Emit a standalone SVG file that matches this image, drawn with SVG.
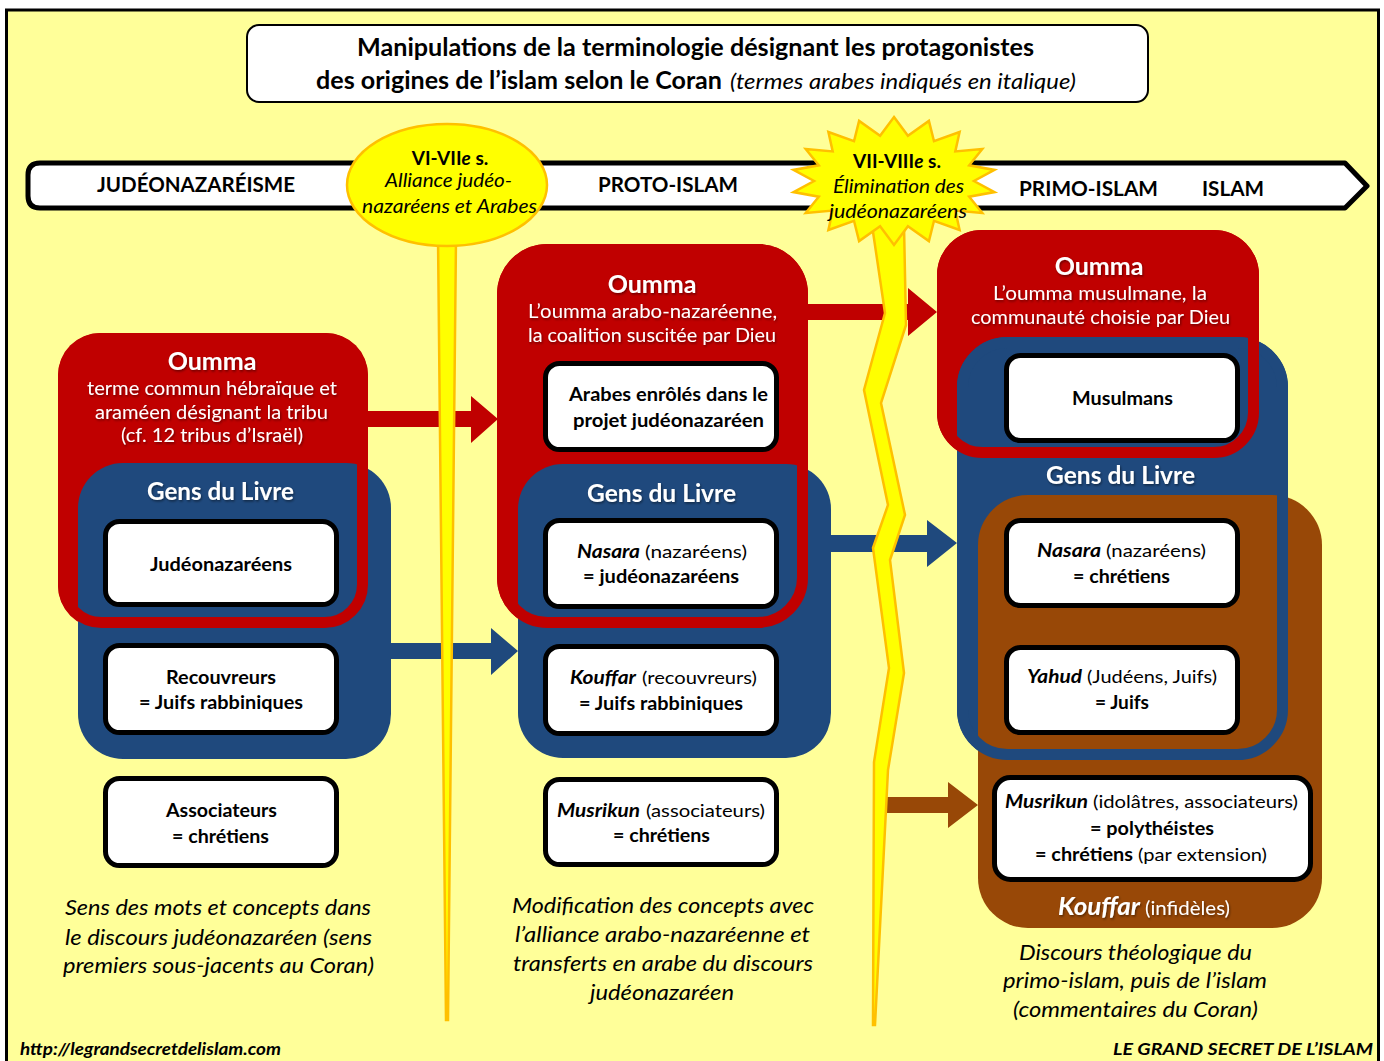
<svg xmlns="http://www.w3.org/2000/svg" width="1384" height="1061" viewBox="0 0 1384 1061">
<defs>
<filter id="sh" x="-5%" y="-20%" width="110%" height="150%"><feDropShadow dx="1" dy="1.5" stdDeviation="1" flood-color="#000" flood-opacity="0.45"/></filter>
<style>
text{font-family:Lato,"Liberation Sans",sans-serif;fill:#000}
.b{font-weight:700}
.i{font-style:italic}
.w{fill:#fff}
.s18{font-size:18px}
.s19{font-size:19.5px}
.s21{font-size:21px}
.s24{font-size:24px}
.s25{font-size:25px}
.red{fill:#C00000}
.blue{fill:#1F497D}
.brown{fill:#984807}
.redo{fill:none;stroke:#C00000;stroke-width:11}
.blueo{fill:none;stroke:#1F497D;stroke-width:11}
.wb{fill:#fff;stroke:#000;stroke-width:5}
.yl{fill:#FFFF00;stroke:#FFC000;stroke-width:2.5}
</style>
</defs>
<rect x="0" y="0" width="1384" height="1061" fill="#fff"/>
<rect x="6.5" y="10" width="1372" height="1080" fill="#FFFF99" stroke="#000" stroke-width="3"/>

<g id="title">
<rect x="247" y="25" width="901" height="77" rx="12" fill="#fff" stroke="#000" stroke-width="2"/>
<text class="b s24" x="357" y="56" textLength="677" lengthAdjust="spacingAndGlyphs">Manipulations de la terminologie désignant les protagonistes</text>
<text class="b s24" x="316" y="89" textLength="406" lengthAdjust="spacingAndGlyphs">des origines de l’islam selon le Coran</text>
<text class="i" font-size="22" x="730" y="89" textLength="346" lengthAdjust="spacingAndGlyphs">(termes arabes indiqués en italique)</text>
</g>

<g id="timeline">
<path d="M40,163 H1345 L1367,186 L1345,208 H40 Q28,208 28,196 V175 Q28,163 40,163 Z" fill="#fff" stroke="#000" stroke-width="5" stroke-linejoin="round"/>
<text class="b s21" x="97" y="192" textLength="198" lengthAdjust="spacingAndGlyphs">JUDÉONAZARÉISME</text>
<text class="b s21" x="598" y="192" textLength="140" lengthAdjust="spacingAndGlyphs">PROTO-ISLAM</text>
<text class="b s21" x="1019" y="196" textLength="139" lengthAdjust="spacingAndGlyphs">PRIMO-ISLAM</text>
<text class="b s21" x="1202" y="196" textLength="62" lengthAdjust="spacingAndGlyphs">ISLAM</text>
</g>

<g id="col-left">
<rect class="red" x="58" y="333" width="310" height="295" rx="42"/>
<rect class="blue" x="78" y="463" width="313" height="296" rx="45"/>
<rect class="redo" x="63.5" y="338.5" width="299" height="284" rx="38"/>
<g filter="url(#sh)">
<text class="b w s25" x="212" y="370" text-anchor="middle">Oumma</text>
<text class="w s19" x="87" y="395" textLength="250" lengthAdjust="spacingAndGlyphs">terme commun hébraïque et</text>
<text class="w s19" x="95" y="419" textLength="233" lengthAdjust="spacingAndGlyphs">araméen désignant la tribu</text>
<text class="w s19" x="121" y="442" textLength="182" lengthAdjust="spacingAndGlyphs">(cf. 12 tribus d’Israël)</text>
<text class="b w s24" x="147" y="500" textLength="147" lengthAdjust="spacingAndGlyphs">Gens du Livre</text>
</g>
</g>

<g id="node-judeonazareens">
<rect class="wb" x="105.5" y="521.5" width="231" height="83" rx="14"/>
<text class="b s18" x="150" y="571" textLength="142" lengthAdjust="spacingAndGlyphs">Judéonazaréens</text>
</g>
<g id="node-recouvreurs">
<rect class="wb" x="105.5" y="645.5" width="231" height="87" rx="14"/>
<text class="b s18" x="166" y="684" textLength="110" lengthAdjust="spacingAndGlyphs">Recouvreurs</text>
<text class="b s18" x="139" y="709" textLength="164" lengthAdjust="spacingAndGlyphs">= Juifs rabbiniques</text>
</g>
<g id="node-associateurs">
<rect class="wb" x="105.5" y="778.5" width="231" height="87" rx="14"/>
<text class="b s18" x="166" y="817" textLength="111" lengthAdjust="spacingAndGlyphs">Associateurs</text>
<text class="b s18" x="172" y="843" textLength="97" lengthAdjust="spacingAndGlyphs">= chrétiens</text>
</g>
<g id="caption-left">
<text class="i s21" x="65" y="915" textLength="306" lengthAdjust="spacingAndGlyphs">Sens des mots et concepts dans</text>
<text class="i s21" x="65" y="945" textLength="307" lengthAdjust="spacingAndGlyphs">le discours judéonazaréen (sens</text>
<text class="i s21" x="63" y="973" textLength="311" lengthAdjust="spacingAndGlyphs">premiers sous-jacents au Coran)</text>
</g>

<g id="col-middle">
<rect class="red" x="497" y="244" width="311" height="384" rx="50"/>
<rect class="blue" x="518" y="464" width="313" height="294" rx="45"/>
<rect class="redo" x="502.5" y="249.5" width="300" height="373" rx="45"/>
<g filter="url(#sh)">
<text class="b w s25" x="652" y="293" text-anchor="middle">Oumma</text>
<text class="w s19" x="528" y="318" textLength="249" lengthAdjust="spacingAndGlyphs">L’oumma arabo-nazaréenne,</text>
<text class="w s19" x="528" y="342" textLength="248" lengthAdjust="spacingAndGlyphs">la coalition suscitée par Dieu</text>
<text class="b w s24" x="587" y="502" textLength="149" lengthAdjust="spacingAndGlyphs">Gens du Livre</text>
</g>
</g>

<g id="node-arabes">
<rect class="wb" x="545.5" y="363.5" width="231" height="86" rx="14"/>
<text class="b s18" x="569" y="401" textLength="199" lengthAdjust="spacingAndGlyphs">Arabes enrôlés dans le</text>
<text class="b s18" x="573" y="427" textLength="191" lengthAdjust="spacingAndGlyphs">projet judéonazaréen</text>
</g>
<g id="node-nasara-1">
<rect class="wb" x="545.5" y="520.5" width="231" height="86" rx="14"/>
<text class="b i s18" x="577" y="558" textLength="63" lengthAdjust="spacingAndGlyphs">Nasara</text>
<text class="s18" x="645" y="558" textLength="102" lengthAdjust="spacingAndGlyphs">(nazaréens)</text>
<text class="b s18" x="583" y="583" textLength="156" lengthAdjust="spacingAndGlyphs">= judéonazaréens</text>
</g>
<g id="node-kouffar-1">
<rect class="wb" x="545.5" y="646.5" width="231" height="87" rx="14"/>
<text class="b i s18" x="570" y="684" textLength="66" lengthAdjust="spacingAndGlyphs">Kouffar</text>
<text class="s18" x="642" y="684" textLength="115" lengthAdjust="spacingAndGlyphs">(recouvreurs)</text>
<text class="b s18" x="579" y="710" textLength="164" lengthAdjust="spacingAndGlyphs">= Juifs rabbiniques</text>
</g>
<g id="node-musrikun-1">
<rect class="wb" x="545.5" y="779.5" width="231" height="85" rx="14"/>
<text class="b i s18" x="557" y="817" textLength="83" lengthAdjust="spacingAndGlyphs">Musrikun</text>
<text class="s18" x="646" y="817" textLength="119" lengthAdjust="spacingAndGlyphs">(associateurs)</text>
<text class="b s18" x="613" y="842" textLength="97" lengthAdjust="spacingAndGlyphs">= chrétiens</text>
</g>
<g id="caption-middle">
<text class="i s21" x="512" y="913" textLength="302" lengthAdjust="spacingAndGlyphs">Modification des concepts avec</text>
<text class="i s21" x="515" y="942" textLength="295" lengthAdjust="spacingAndGlyphs">l’alliance arabo-nazaréenne et</text>
<text class="i s21" x="513" y="971" textLength="300" lengthAdjust="spacingAndGlyphs">transferts en arabe du discours</text>
<text class="i s21" x="590" y="1000" textLength="144" lengthAdjust="spacingAndGlyphs">judéonazaréen</text>
</g>

<g id="col-right">
<rect class="red" x="937" y="230" width="322" height="228" rx="45"/>
<rect class="blue" x="957" y="337" width="331" height="423" rx="50"/>
<rect class="brown" x="978" y="495" width="344" height="433" rx="50"/>
<rect class="blueo" x="962.5" y="342.5" width="320" height="412" rx="45"/>
<rect class="redo" x="942.5" y="235.5" width="311" height="217" rx="40"/>
<g filter="url(#sh)">
<text class="b w s25" x="1099" y="275" text-anchor="middle">Oumma</text>
<text class="w s19" x="993" y="300" textLength="214" lengthAdjust="spacingAndGlyphs">L’oumma musulmane, la</text>
<text class="w s19" x="971" y="324" textLength="259" lengthAdjust="spacingAndGlyphs">communauté choisie par Dieu</text>
<text class="b w s24" x="1046" y="484" textLength="149" lengthAdjust="spacingAndGlyphs">Gens du Livre</text>
<text class="b i w s25" x="1058" y="915" textLength="82" lengthAdjust="spacingAndGlyphs">Kouffar</text>
<text class="w s19" x="1145" y="915" textLength="85" lengthAdjust="spacingAndGlyphs">(infidèles)</text>
</g>
</g>

<g id="node-musulmans">
<rect class="wb" x="1006.5" y="355.5" width="231" height="85" rx="14"/>
<text class="b s18" x="1072" y="405" textLength="101" lengthAdjust="spacingAndGlyphs">Musulmans</text>
</g>
<g id="node-nasara-2">
<rect class="wb" x="1006.5" y="520.5" width="231" height="85" rx="14"/>
<text class="b i s18" x="1037" y="557" textLength="64" lengthAdjust="spacingAndGlyphs">Nasara</text>
<text class="s18" x="1106" y="557" textLength="100" lengthAdjust="spacingAndGlyphs">(nazaréens)</text>
<text class="b s18" x="1073" y="583" textLength="97" lengthAdjust="spacingAndGlyphs">= chrétiens</text>
</g>
<g id="node-yahud">
<rect class="wb" x="1006.5" y="647.5" width="231" height="85" rx="14"/>
<text class="b i s18" x="1027" y="683" textLength="55" lengthAdjust="spacingAndGlyphs">Yahud</text>
<text class="s18" x="1087" y="683" textLength="130" lengthAdjust="spacingAndGlyphs">(Judéens, Juifs)</text>
<text class="b s18" x="1095" y="709" textLength="54" lengthAdjust="spacingAndGlyphs">= Juifs</text>
</g>
<g id="node-musrikun-2">
<rect class="wb" x="994.5" y="777.5" width="316" height="102" rx="16"/>
<text class="b i s18" x="1005" y="808" textLength="83" lengthAdjust="spacingAndGlyphs">Musrikun</text>
<text class="s18" x="1093" y="808" textLength="205" lengthAdjust="spacingAndGlyphs">(idolâtres, associateurs)</text>
<text class="b s18" x="1090" y="835" textLength="124" lengthAdjust="spacingAndGlyphs">= polythéistes</text>
<text class="b s18" x="1035" y="861" textLength="98" lengthAdjust="spacingAndGlyphs">= chrétiens</text>
<text class="s18" x="1138" y="861" textLength="129" lengthAdjust="spacingAndGlyphs">(par extension)</text>
</g>
<g id="caption-right">
<text class="i s21" x="1019" y="960" textLength="233" lengthAdjust="spacingAndGlyphs">Discours théologique du</text>
<text class="i s21" x="1003" y="988" textLength="264" lengthAdjust="spacingAndGlyphs">primo-islam, puis de l’islam</text>
<text class="i s21" x="1013" y="1017" textLength="245" lengthAdjust="spacingAndGlyphs">(commentaires du Coran)</text>
</g>

<g id="connectors">
<polygon class="red" points="368,411 471,411 471,396 498,419 471,443 471,427 368,427"/>
<polygon class="red" points="808,304 908,304 908,288 937,312 908,336 908,320 808,320"/>
<polygon class="blue" points="391,643 491,643 491,628 518,651 491,675 491,659 391,659"/>
<polygon class="blue" points="831,535 927,535 927,520 957,543 927,567 927,552 831,552"/>
<polygon class="brown" points="887,797 948,797 948,782 978,805 948,828 948,813 887,813"/>
</g>

<g id="marker-alliance">
<polygon class="yl" points="438,238 456,238 448,1020 446,1020"/>
<ellipse class="yl" cx="447" cy="185" rx="100" ry="61" stroke-width="3"/>
<text class="b" font-size="19" x="450" y="165" text-anchor="middle">VI-VII<tspan class="i">e</tspan> s.</text>
<text class="i" font-size="19" x="385" y="187" textLength="127" lengthAdjust="spacingAndGlyphs">Alliance judéo-</text>
<text class="i" font-size="19" x="362" y="213" textLength="175" lengthAdjust="spacingAndGlyphs">nazaréens et Arabes</text>
</g>

<g id="marker-elimination">
<polygon class="yl" points="872,225 885,313 864,390 888,505 873,548 889,668 874,762 873,1025 875,1025 888,770 904,673 890,560 905,515 881,403 906,325 904,225"/>
<polygon class="yl" stroke-width="3" points="894,117 907.9,135.7 928.9,120.9 934,141.2 959.6,132 955.3,151.4 982.3,149 969.2,165.3 994.5,169.9 974,181 994.5,192.1 969.2,196.7 982.3,213 955.3,210.6 959.6,230 934,220.8 928.9,241.1 907.9,226.3 894,245 880.1,226.3 859.1,241.1 854,220.8 828.4,230 832.7,210.6 805.7,213 818.8,196.7 793.5,192.1 814,181 793.5,169.9 818.8,165.3 805.7,149 832.7,151.4 828.4,132 854,141.2 859.1,120.9 880.1,135.7"/>
<text class="b" font-size="19" x="897" y="168" text-anchor="middle">VII-VIII<tspan class="i">e</tspan> s.</text>
<text class="i" font-size="19" x="833" y="193" textLength="131" lengthAdjust="spacingAndGlyphs">Élimination des</text>
<text class="i" font-size="19" x="829" y="218" textLength="138" lengthAdjust="spacingAndGlyphs">judéonazaréens</text>
</g>

<g id="footer">
<text class="b i" font-size="17" x="20" y="1055" textLength="261" lengthAdjust="spacingAndGlyphs">http://legrandsecretdelislam.com</text>
<text class="b i" font-size="17" x="1113" y="1055" textLength="260" lengthAdjust="spacingAndGlyphs">LE GRAND SECRET DE L’ISLAM</text>
</g>
</svg>
